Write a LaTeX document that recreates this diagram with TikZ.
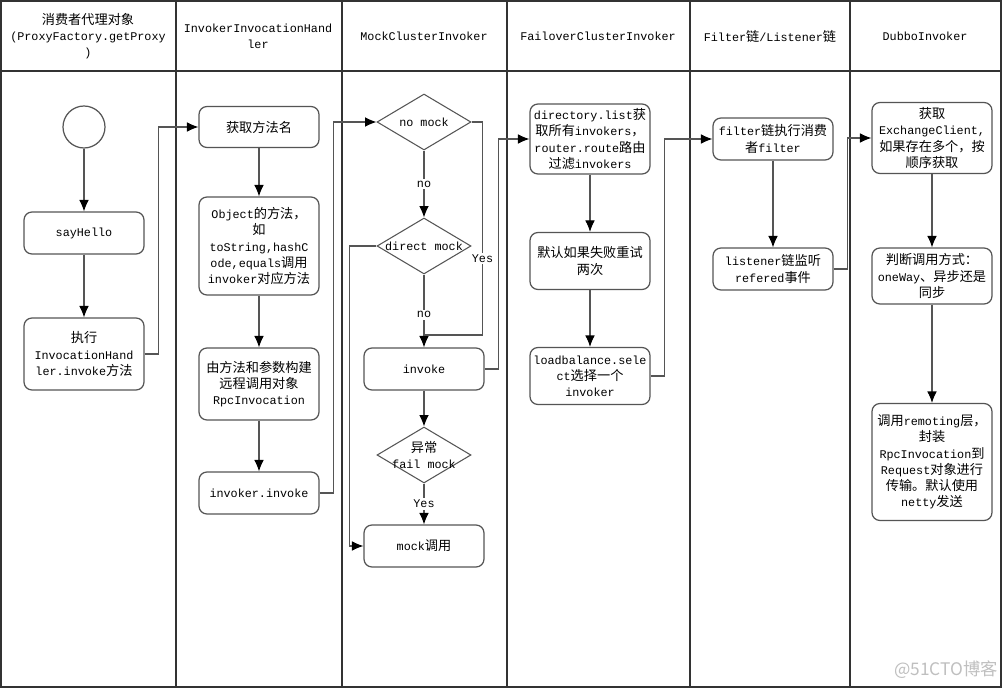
\documentclass[tikz,border=0pt]{standalone}
\usepackage{fontspec}
\usepackage{xcolor}
\usepackage{tikz}
\usetikzlibrary{shapes.geometric,arrows.meta}
\setmainfont{Liberation Mono}
\newfontfamily\cjk[Scale=1.12]{Noto Sans CJK SC}
\newcommand{\zh}[1]{{\cjk #1}}
\definecolor{framegray}{HTML}{333333}
\definecolor{boxgray}{HTML}{555555}

\begin{document}
\begin{tikzpicture}[x=0.02cm,y=-0.02cm,font=\fontsize{6.7}{9.2}\selectfont]
\tikzstyle{box} = [draw=boxgray, line width=0.7pt, rounded corners=4.5pt, align=center, inner sep=1pt, minimum width=2.4cm, minimum height=0.84cm]
\tikzstyle{dec} = [draw=boxgray, line width=0.6pt, diamond, inner sep=0pt, minimum width=1.88cm, minimum height=1.12cm]
\tikzstyle{arrow} = [draw=boxgray, line width=0.6pt, -{Latex[length=6.5pt,width=5.5pt,fill=black,color=black]}]
\tikzstyle{line} = [draw=boxgray, line width=0.6pt]
\tikzstyle{lbl} = [fill=white, inner sep=1pt]
%
\useasboundingbox (0,0) rectangle (1003,689);
\fill[white] (0,0) rectangle (1003,689);

% lanes
\draw[framegray, line width=0.85pt] (1,1) rectangle (1001,687);
\draw[framegray, line width=0.85pt] (1,71) -- (1001,71);
\foreach \lx in {176,342,507,690,850}
	\draw[framegray, line width=0.85pt] (\lx,1) -- (\lx,687);

\node[align=center] (h1) at (88,36) {\zh{消费者代理对象}\\(ProxyFactory.getProxy\\)};
\node[align=center] (h2) at (258,36) {InvokerInvocationHand\\ler};
\node (h3) at (424,36) {MockClusterInvoker};
\node (h4) at (598,36) {FailoverClusterInvoker};
\node (h5) at (770,36) {Filter\zh{链}/Listener\zh{链}};
\node (h6) at (925,36) {DubboInvoker};

% proxy
\node[draw=boxgray, line width=0.7pt, circle, minimum size=0.84cm] (start) at (84,127) {};
\node[box] (hello) at (84,233) {sayHello};
\node[box, minimum height=1.44cm] (exec) at (84,354) {\zh{执行}\\InvocationHand\\ler.invoke\zh{方法}};

% handler
\node[box, minimum height=0.82cm] (getname) at (259,127) {\zh{获取方法名}};
\node[box, minimum height=1.96cm] (objm) at (259,246) {Object\zh{的方法，}\\\zh{如}\\toString,hashC\\ode,equals\zh{调用}\\invoker\zh{对应方法}};
\node[box, minimum height=1.44cm] (build) at (259,384) {\zh{由方法和参数构建}\\\zh{远程调用对象}\\RpcInvocation};
\node[box] (invinv) at (259,493) {invoker.invoke};

% mock cluster
\node[dec] (nomock) at (424,122) {\makebox[0pt]{no mock}};
\node[dec] (direct) at (424,246) {\makebox[0pt]{direct mock}};
\node[box] (invoke) at (424,369) {invoke};
\node[dec, align=center] (fail) at (424,455) {\makebox[0pt]{\zh{异常}}\\\makebox[0pt]{fail mock}};
\node[box] (mockcall) at (424,546) {mock\zh{调用}};
\coordinate (join) at (424,335);

% failover
\node[box, minimum height=1.4cm] (dirlist) at (590,139) {directory.list\zh{获}\\\zh{取所有}invokers\zh{，}\\router.route\zh{路由}\\\zh{过滤}invokers};
\node[box, minimum height=1.14cm] (retry) at (590,261) {\zh{默认如果失败重试}\\\zh{两次}};
\node[box, minimum height=1.14cm] (lb) at (590,376) {loadbalance.sele\\ct\zh{选择一个}\\invoker};

% filter / listener
\node[box] (filter) at (773,139) {filter\zh{链执行消费}\\\zh{者}filter};
\node[box] (listener) at (773,269) {listener\zh{链监听}\\refered\zh{事件}};

% dubbo
\node[box, minimum height=1.42cm] (exch) at (932,138) {\zh{获取}\\ExchangeClient,\\\zh{如果存在多个，按}\\\zh{顺序获取}};
\node[box, minimum height=1.12cm] (way) at (932,276) {\zh{判断调用方式：}\\oneWay\zh{、异步还是}\\\zh{同步}};
\node[box, minimum height=2.34cm] (remote) at (932,462) {\zh{调用}remoting\zh{层，}\\\zh{封装}\\RpcInvocation\zh{到}\\Request\zh{对象进行}\\\zh{传输。默认使用}\\netty\zh{发送}};

% flow
\draw[arrow] (start) -- (hello);
\draw[arrow] (hello) -- (exec);
\draw[arrow] (exec.east) -- ++(14,0) |- (getname.west);
\draw[arrow] (getname) -- (objm);
\draw[arrow] (objm) -- (build);
\draw[arrow] (build) -- (invinv);
\draw[arrow] (invinv.east) -- ++(14,0) |- (nomock.west);
\draw[arrow] (nomock) -- node[lbl] {no} (direct);
\draw[arrow] (direct) -- node[lbl, pos=0.55] {no} (invoke);
\draw[line] (nomock.east) -- ++(11,0) |- node[lbl, pos=0.32] {Yes} (join);
\draw[arrow] (direct.west) -- ++(-27,0) |- (mockcall.west);
\draw[arrow] (invoke) -- (fail);
\draw[arrow] (fail) -- node[lbl] {Yes} (mockcall);
\draw[arrow] (invoke.east) -- ++(14,0) |- (dirlist.west);
\draw[arrow] (dirlist) -- (retry);
\draw[arrow] (retry) -- (lb);
\draw[arrow] (lb.east) -- ++(14,0) |- (filter.west);
\draw[arrow] (filter) -- (listener);
\draw[arrow] (listener.east) -- ++(14,0) |- (exch.west);
\draw[arrow] (exch) -- (way);
\draw[arrow] (way) -- (remote);

\node[text=black!25, font=\fontsize{8.8}{10}\cjk] (mark) at (946,670) {@51CTO博客};
\end{tikzpicture}
\end{document}
